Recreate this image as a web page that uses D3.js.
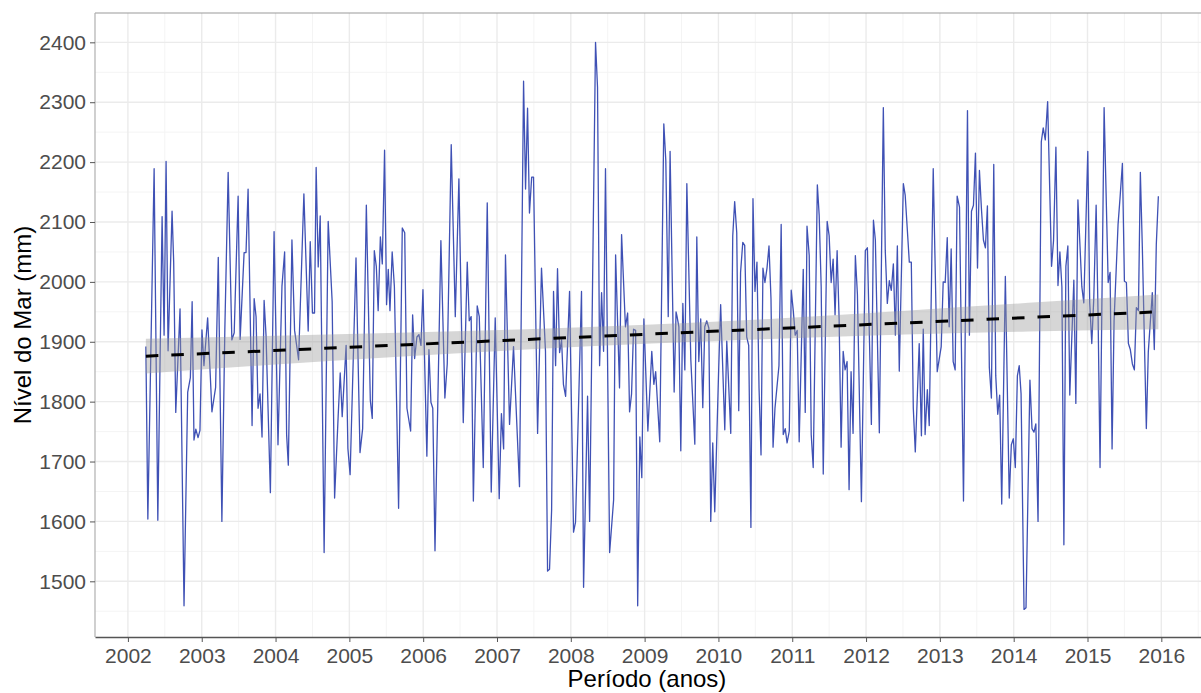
<!DOCTYPE html>
<html>
<head>
<meta charset="utf-8">
<script src="https://cdn.jsdelivr.net/npm/d3@7"></script>
<style>
  body { margin: 0; background: #fff; }
  text { font-family: "Liberation Sans", Arial, sans-serif; }
</style>
</head>
<body>
<svg width="1201" height="693"></svg>
<script>
// serie: tempo (anos decimais) e nivel do mar (mm)
var anos = [
2002.243,2002.27,2002.355,2002.405,2002.463,2002.49,2002.517,2002.544,2002.598,2002.62,
2002.648,2002.706,2002.76,2002.81,2002.846,2002.87,2002.895,2002.92,2002.95,2002.976,
2003.003,2003.03,2003.08,2003.138,2003.188,2003.224,2003.273,2003.313,2003.358,2003.408,
2003.44,2003.493,2003.52,2003.574,2003.6,2003.628,2003.682,2003.71,2003.736,2003.763,
2003.79,2003.817,2003.845,2003.871,2003.93,2003.98,2004.033,2004.087,2004.123,2004.15,
2004.173,2004.222,2004.258,2004.312,2004.384,2004.442,2004.47,2004.5,2004.528,2004.55,
2004.578,2004.605,2004.658,2004.713,2004.767,2004.8,2004.848,2004.876,2004.903,2004.956,
2004.98,2005.01,2005.09,2005.144,2005.18,2005.23,2005.284,2005.31,2005.338,2005.365,
2005.39,2005.42,2005.446,2005.477,2005.504,2005.527,2005.55,2005.58,2005.61,2005.667,
2005.717,2005.75,2005.78,2005.83,2005.857,2005.884,2005.915,2005.942,2005.97,2005.997,
2006.05,2006.078,2006.105,2006.13,2006.16,2006.24,2006.294,2006.326,2006.38,2006.435,
2006.484,2006.543,2006.597,2006.624,2006.65,2006.68,2006.732,2006.76,2006.814,2006.868,
2006.922,2006.976,2007.03,2007.06,2007.09,2007.115,2007.17,2007.224,2007.25,2007.305,
2007.36,2007.387,2007.414,2007.44,2007.47,2007.495,2007.55,2007.603,2007.657,2007.685,
2007.712,2007.74,2007.766,2007.794,2007.82,2007.848,2007.875,2007.9,2007.93,2007.983,
2008.037,2008.064,2008.145,2008.173,2008.227,2008.255,2008.335,2008.362,2008.39,2008.417,
2008.444,2008.47,2008.526,2008.58,2008.607,2008.66,2008.688,2008.74,2008.77,2008.796,
2008.823,2008.85,2008.878,2008.906,2008.935,2008.962,2008.99,2009.044,2009.097,2009.125,
2009.15,2009.205,2009.26,2009.287,2009.32,2009.345,2009.4,2009.426,2009.44,2009.464,
2009.49,2009.518,2009.545,2009.572,2009.626,2009.68,2009.707,2009.734,2009.76,2009.788,
2009.815,2009.842,2009.87,2009.896,2009.923,2009.95,2010.004,2010.03,2010.086,2010.113,
2010.167,2010.194,2010.22,2010.248,2010.275,2010.3,2010.33,2010.356,2010.383,2010.41,
2010.44,2010.468,2010.495,2010.522,2010.55,2010.577,2010.603,2010.63,2010.658,2010.685,
2010.712,2010.74,2010.766,2010.82,2010.85,2010.878,2010.905,2010.93,2010.96,2010.986,
2011.014,2011.04,2011.067,2011.094,2011.149,2011.176,2011.2,2011.23,2011.257,2011.284,
2011.34,2011.365,2011.392,2011.42,2011.473,2011.5,2011.527,2011.554,2011.58,2011.608,
2011.635,2011.662,2011.69,2011.716,2011.743,2011.77,2011.797,2011.824,2011.855,2011.883,
2011.937,2011.99,2012.018,2012.072,2012.1,2012.126,2012.18,2012.234,2012.26,2012.288,
2012.315,2012.342,2012.37,2012.397,2012.424,2012.45,2012.505,2012.53,2012.586,2012.613,
2012.64,2012.667,2012.72,2012.75,2012.775,2012.8,2012.83,2012.856,2012.91,2012.964,
2013.018,2013.045,2013.072,2013.1,2013.126,2013.153,2013.18,2013.207,2013.234,2013.266,
2013.32,2013.374,2013.4,2013.428,2013.455,2013.482,2013.51,2013.536,2013.563,2013.59,
2013.617,2013.644,2013.67,2013.698,2013.73,2013.757,2013.784,2013.81,2013.838,2013.887,
2013.94,2013.968,2013.995,2014.022,2014.05,2014.075,2014.1,2014.14,2014.167,2014.22,
2014.248,2014.275,2014.3,2014.33,2014.374,2014.4,2014.428,2014.46,2014.513,2014.54,
2014.572,2014.6,2014.626,2014.653,2014.68,2014.707,2014.734,2014.76,2014.815,2014.842,
2014.87,2014.923,2014.95,2015.004,2015.03,2015.058,2015.085,2015.117,2015.144,2015.17,
2015.225,2015.28,2015.306,2015.333,2015.36,2015.414,2015.44,2015.473,2015.5,2015.527,
2015.554,2015.58,2015.608,2015.635,2015.662,2015.69,2015.716,2015.743,2015.797,2015.824,
2015.878,2015.905,2015.932,2015.96
];
var nivel = [
1892,1604,2189,1602,2109,1911,2201,1885,2118,2033,
1782,1955,1459,1816,1840,1967,1736,1754,1740,1752,
1920,1860,1940,1783,1824,2041,1600,1921,2183,1903,
1915,2143,1904,2049,2049,2155,1760,1972,1942,1789,
1813,1741,1969,1911,1648,2084,1728,1993,2050,1745,
1694,2070,1919,1870,2147,1918,2067,1948,1948,2191,
2025,2110,1548,2101,1967,1639,1775,1848,1775,1894,
1722,1678,2040,1715,1755,2128,1802,1772,2052,2026,
1952,2075,2030,2220,1962,2021,1952,2050,1992,1622,
2090,2082,1789,1751,1945,1872,1908,1912,1894,1987,
1709,1887,1799,1789,1551,2069,1806,1863,2229,1942,
2172,1765,2033,1935,1942,1634,1960,1942,1690,2132,
1649,1940,1638,1780,1721,2045,1762,1892,1816,1658,
2335,2155,2290,2115,2175,2175,1747,2023,1884,1517,
1520,1619,1984,1860,2022,1882,1903,1829,1809,1984,
1582,1599,1984,1490,1809,1600,2400,2325,1860,1982,
1884,2189,1548,1636,2045,1823,2079,1925,1948,1783,
1813,1921,1919,1459,1741,1673,1938,1751,1884,1829,
1850,1733,2264,2203,1942,2218,1816,1950,1942,1925,
1718,1964,1853,2164,1870,1729,2075,1867,1938,1790,
1925,1935,1923,1600,1731,1616,1857,1962,1753,1901,
1747,2077,2134,2082,1785,2016,2066,2061,1908,1894,
1590,2139,1984,2033,1823,1711,2023,1999,2023,2060,
1972,1724,1789,1860,2096,1745,1755,1731,1751,1986,
1952,1911,1919,1733,2021,1782,2093,2044,1745,1690,
2162,2111,1992,1679,2101,2077,1999,2038,1945,2052,
1938,1724,1884,1853,1867,1653,1850,1747,2044,1979,
1633,2052,2057,1762,2103,2070,1748,2291,2053,1964,
2002,1986,2030,1911,2060,1851,2164,2145,2033,2033,
1789,1716,1897,1743,1921,1745,1820,1760,2189,1850,
1892,2000,1999,2074,1925,2055,1867,1853,2143,2125,
1634,2286,1911,2118,2128,2215,2023,2186,2122,2070,
2057,2127,1857,1806,2196,1843,1779,1811,1629,2009,
1639,1728,1738,1690,1843,1860,1813,1453,1456,1836,
1755,1749,1763,1600,2234,2257,2237,2301,2026,2069,
2225,1994,2050,1992,1561,2026,2060,1811,2003,1797,
2137,1992,1965,2218,1965,1897,1972,2128,1938,1690,
2291,1999,2016,1721,1935,2096,2139,2198,2001,1999,
1897,1887,1863,1853,1957,1952,2183,2057,1755,1884,
1982,1887,2062,2143
];

// reta de tendencia (lm) e faixa de confianca
var tendAnos = [2002.243, 2015.96];
var tendNivel = [1876, 1950];
var faixaAnos = [2002.243, 2004, 2005.67, 2007.4, 2009.1, 2010.8, 2012.53, 2014.2, 2015.96];
var faixaInf  = [1847, 1862, 1875, 1887, 1897, 1905, 1912, 1917, 1921];
var faixaSup  = [1905, 1910, 1915, 1921, 1929, 1939, 1952, 1965, 1979];

var anosTicks = d3.range(2002, 2017);
var nivelTicks = d3.range(1500, 2401, 100);

var svg = d3.select("svg"),
    pEsq = 95, pDir = 1209, pTopo = 13, pBase = 637;

svg.append("rect").attr("width", 1201).attr("height", 693).attr("fill", "#fff");

var x = d3.scaleLinear().domain([2001.554, 2016.646]).range([pEsq, pDir]);
var y = d3.scaleLinear().domain([1407, 2449]).range([pBase, pTopo]);

var g = svg.append("g");

// grade menor
g.selectAll(".minx").data(d3.range(2002.5, 2016.6, 1)).enter().append("line")
    .attr("x1", function(d){ return x(d); }).attr("x2", function(d){ return x(d); })
    .attr("y1", pTopo).attr("y2", pBase)
    .attr("stroke", "#f4f4f4").attr("stroke-width", 1);
g.selectAll(".miny").data(d3.range(1450, 2449, 100)).enter().append("line")
    .attr("y1", function(d){ return y(d); }).attr("y2", function(d){ return y(d); })
    .attr("x1", pEsq).attr("x2", pDir)
    .attr("stroke", "#f4f4f4").attr("stroke-width", 1);

// grade maior
g.selectAll(".majx").data(anosTicks).enter().append("line")
    .attr("x1", function(d){ return x(d); }).attr("x2", function(d){ return x(d); })
    .attr("y1", pTopo).attr("y2", pBase)
    .attr("stroke", "#ebebeb").attr("stroke-width", 1.4);
g.selectAll(".majy").data(nivelTicks).enter().append("line")
    .attr("y1", function(d){ return y(d); }).attr("y2", function(d){ return y(d); })
    .attr("x1", pEsq).attr("x2", pDir)
    .attr("stroke", "#ebebeb").attr("stroke-width", 1.4);

// serie
var linha = d3.line()
    .x(function(d, i){ return x(anos[i]); })
    .y(function(d){ return y(d); });

g.append("path")
    .datum(nivel)
    .attr("fill", "none")
    .attr("stroke", "#3F51B5")
    .attr("stroke-width", 1.3)
    .attr("stroke-linejoin", "round")
    .attr("d", linha);

// faixa de confianca
var area = d3.area()
    .x(function(d, i){ return x(faixaAnos[i]); })
    .y0(function(d, i){ return y(faixaInf[i]); })
    .y1(function(d, i){ return y(faixaSup[i]); })
    .curve(d3.curveMonotoneX);

g.append("path")
    .datum(faixaAnos)
    .attr("fill", "#999999")
    .attr("fill-opacity", 0.4)
    .attr("d", area);

// tendencia
g.append("path")
    .datum(tendNivel)
    .attr("fill", "none")
    .attr("stroke", "#000")
    .attr("stroke-width", 3)
    .attr("stroke-dasharray", "12.5,13")
    .attr("d", d3.line()
        .x(function(d, i){ return x(tendAnos[i]); })
        .y(function(d){ return y(d); }));

// borda do painel
svg.append("line").attr("x1", pEsq).attr("x2", pDir).attr("y1", pTopo).attr("y2", pTopo)
    .attr("stroke", "#9a9a9a").attr("stroke-width", 1.2);
svg.append("line").attr("x1", pEsq).attr("x2", pEsq).attr("y1", pTopo).attr("y2", pBase)
    .attr("stroke", "#b0b0b0").attr("stroke-width", 1.2);

// eixos
var eixoX = svg.append("g")
    .attr("transform", "translate(0," + pBase + ")")
    .call(d3.axisBottom(x).tickValues(anosTicks).tickFormat(d3.format("d")).tickSize(5).tickPadding(6).tickSizeOuter(0));
eixoX.select(".domain").attr("stroke", "#555").attr("stroke-width", 1.4);
eixoX.selectAll(".tick line").attr("stroke", "#555");
eixoX.selectAll(".tick text").attr("fill", "#4d4d4d").style("font-size", "21px")
    .style("font-family", "'Liberation Sans', Arial, sans-serif");

var eixoY = svg.append("g")
    .attr("transform", "translate(" + pEsq + ",0)")
    .call(d3.axisLeft(y).tickValues(nivelTicks).tickFormat(d3.format("d")).tickSize(5).tickPadding(4).tickSizeOuter(0));
eixoY.select(".domain").remove();
eixoY.selectAll(".tick line").attr("stroke", "#555");
eixoY.selectAll(".tick text").attr("fill", "#4d4d4d").style("font-size", "21px")
    .style("font-family", "'Liberation Sans', Arial, sans-serif");

// titulos
svg.append("text")
    .attr("x", (pEsq + pDir) / 2 - 5).attr("y", 687)
    .attr("text-anchor", "middle")
    .style("font-size", "24px").attr("fill", "#000")
    .text("Período (anos)");

svg.append("text")
    .attr("transform", "translate(31," + ((pTopo + pBase) / 2) + ") rotate(-90)")
    .attr("text-anchor", "middle")
    .style("font-size", "24px").attr("fill", "#000")
    .text("Nível do Mar (mm)");
</script>
</body>
</html>
